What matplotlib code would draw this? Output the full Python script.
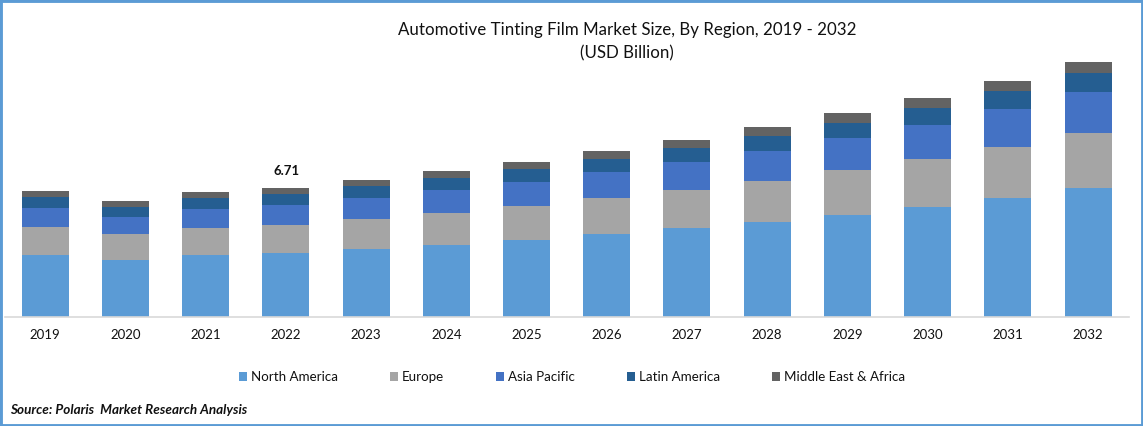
import matplotlib
matplotlib.use("Agg")
import matplotlib.pyplot as plt
from matplotlib.patches import Rectangle
import numpy as np

plt.rcParams["font.family"] = "Lato"

years = ["2019", "2020", "2021", "2022", "2023", "2024", "2025", "2026", "2027", "2028", "2029", "2030", "2031", "2032"]
north_america = [3.22, 2.96, 3.22, 3.33, 3.54, 3.75, 4.00, 4.32, 4.63, 4.94, 5.31, 5.72, 6.19, 6.71]
europe = [1.46, 1.35, 1.40, 1.46, 1.56, 1.66, 1.77, 1.87, 1.98, 2.13, 2.34, 2.50, 2.65, 2.86]
asia_pacific = [0.99, 0.88, 0.99, 1.04, 1.09, 1.20, 1.25, 1.35, 1.46, 1.56, 1.66, 1.77, 1.98, 2.13]
latin_america = [0.57, 0.52, 0.57, 0.57, 0.62, 0.62, 0.68, 0.68, 0.73, 0.78, 0.78, 0.88, 0.94, 0.99]
mea = [0.31, 0.31, 0.31, 0.31, 0.31, 0.36, 0.36, 0.42, 0.42, 0.47, 0.52, 0.52, 0.52, 0.57]

names = ["North America", "Europe", "Asia Pacific", "Latin America", "Middle East & Africa"]
series = [north_america, europe, asia_pacific, latin_america, mea]
colors = ["#5B9BD5", "#A5A5A5", "#4472C4", "#255E91", "#636363"]

W, H = 1143, 426
fig = plt.figure(figsize=(W / 100, H / 100), dpi=100)

# axes placed in pixels, baseline at y=317
ax = fig.add_axes([5 / W, (H - 317) / H, 1124 / W, 267 / H])

x = np.arange(len(years))
bottom = np.zeros(len(years))
for name, vals, c in zip(names, series, colors):
    ax.bar(x, vals, 0.586, bottom=bottom, color=c, label=name, linewidth=0)
    bottom += np.array(vals)

ax.set_xlim(-0.5, len(years) - 0.5 + 0.01)
ax.set_ylim(0, 267 / 19.225)
ax.set_xticks(x)
ax.set_xticklabels(years, fontsize=9.5, color="#111111")
ax.tick_params(axis="x", length=0, pad=8.5)
ax.set_yticks([])
for s in ["top", "left", "right"]:
    ax.spines[s].set_visible(False)
ax.spines["bottom"].set_color("#D9D9D9")
ax.spines["bottom"].set_linewidth(1.2)

ax.text(3.01, bottom[3] + 0.55, "6.71", ha="center", va="bottom", fontsize=9.5, fontweight="bold", color="#111111")

fig.text(627.5 / W, 1 - 29.5 / H, "Automotive Tinting Film Market Size, By Region, 2019 - 2032", ha="center", va="center", fontsize=12.14, color="#111111")
fig.text(627 / W, 1 - 53.5 / H, "(USD Billion)", ha="center", va="center", fontsize=12.14, color="#111111")

fig.legend(loc="center", bbox_to_anchor=(572 / W, 1 - 377 / H), ncol=5, frameon=False, fontsize=9.6,
           handlelength=0.6, handleheight=0.6, handletextpad=0.3, columnspacing=3.9, labelcolor="#111111")

fig.text(10 / W, 1 - 410 / H, "Source: Polaris  Market Research Analysis", ha="left", va="center", fontsize=9.7,
         fontweight="bold", fontstyle="italic", color="#111111")

# blue frame round the picture
fig.add_artist(Rectangle((0, 0), 1, 1, transform=fig.transFigure, fill=False, edgecolor="#5B9BD5", linewidth=3.5))

fig.savefig("out.png", dpi=100)
